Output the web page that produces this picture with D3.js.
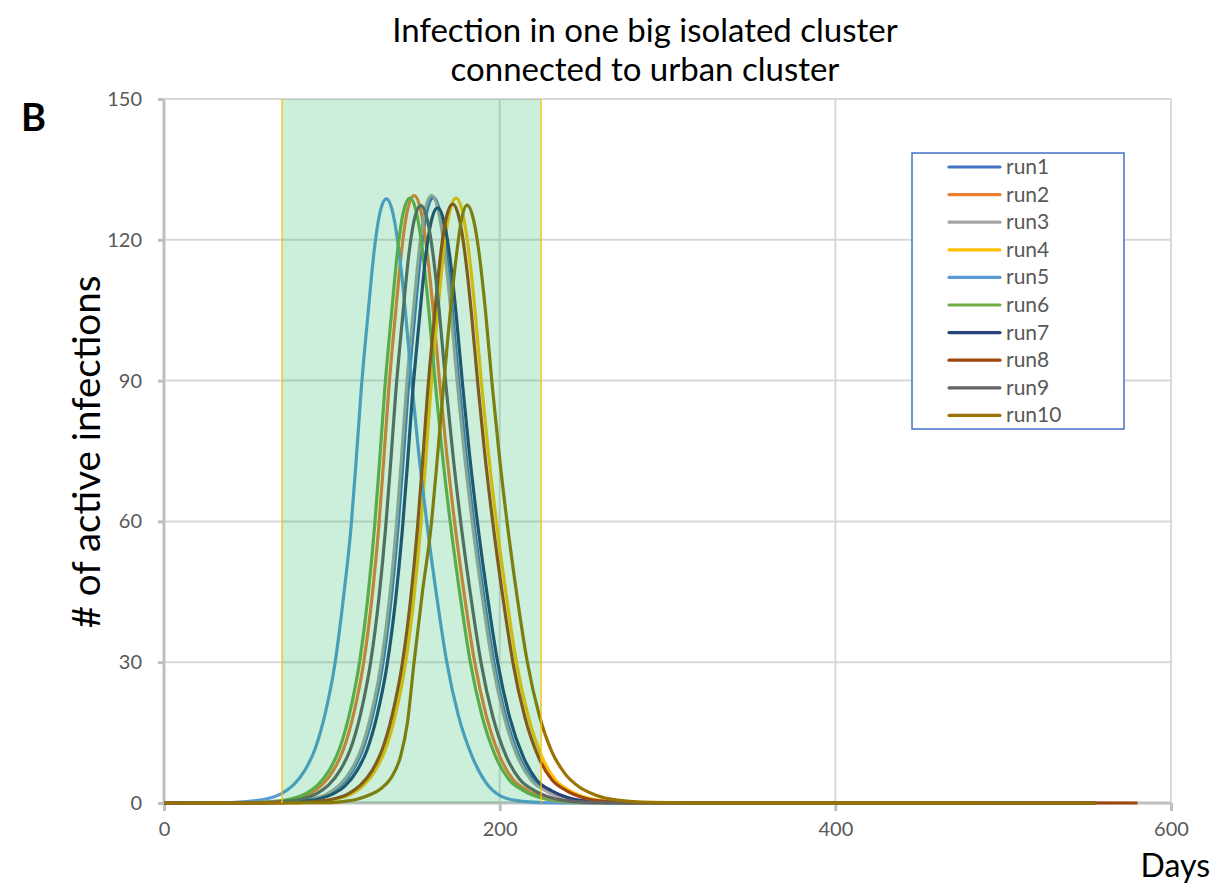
<!DOCTYPE html>
<html><head><meta charset="utf-8">
<script src="https://cdn.jsdelivr.net/npm/d3@7"></script>
<style>
html,body{margin:0;padding:0;background:#fff;}
svg{display:block;font-family:Lato,"Open Sans",sans-serif;}
</style></head>
<body>
<svg id="chart" width="1213" height="886"></svg>
<script>
const seriesNames = ["run1","run2","run3","run4","run5","run6","run7","run8","run9","run10"];
const seriesColors = ["#4472C4","#ED7D31","#A5A5A5","#FFC000","#5B9BD5","#70AD47","#264478","#9E480E","#636363","#997300"];
const xTicks = [0,200,400,600];
const yTicks = [0,30,60,90,120,150];
const shadeRange = [70.3, 224.7];

const run1 = [[0,0],[60.5,0.05],[75.5,0.25],[88.5,0.8],[98.5,2.0],[105.5,3.8],[112.5,7.0],[118.5,11.5],[124.5,19],[130.5,30],[135.5,44],[139.5,59.1],[142.5,73.2],[145.5,88.2],[149.5,104.2],[153.5,118.8],[156.5,125.8],[160.5,129.0],[164.5,125.8],[167.5,119.3],[171.5,106.2],[175.5,90.2],[179.5,75.7],[184.5,60.1],[190.5,44.1],[196.5,30.1],[203.5,18.5],[211.5,10],[219.5,5],[228.5,2.6],[238.5,1.1],[252.5,0.3],[270.5,0.05],[555,0]];
const run2 = [[0,0],[49,0.05],[64,0.25],[77,0.8],[87,2.0],[94,3.8],[101,7.0],[107,11.5],[113,19],[119,30],[124,44],[128,59],[131,73.5],[134,88.5],[138,104.5],[142,119],[145,126.2],[149,129.4],[153,126.2],[156,119.6],[160,106.5],[164,90.5],[168,76],[173,60.3],[179,44.2],[185,30.2],[192,18.6],[200,10],[208,5],[217,2.6],[227,1.1],[241,0.3],[259,0.05],[555,0]];
const run3 = [[0,0],[59.5,0.05],[74.5,0.25],[87.5,0.8],[97.5,2.0],[104.5,3.8],[111.5,7.0],[117.5,11.5],[123.5,19],[129.5,30],[134.5,44],[138.5,59.3],[141.5,73.4],[144.5,88.5],[148.5,104.6],[152.5,119.1],[155.5,126.2],[159.5,129.4],[163.5,126.2],[166.5,119.6],[170.5,106.5],[174.5,90.5],[178.5,76],[183.5,60.3],[189.5,44.2],[195.5,30.2],[202.5,18.6],[210.5,10],[218.5,5],[227.5,2.6],[237.5,1.1],[251.5,0.3],[269.5,0.05],[555,0]];
const run4 = [[0,0],[74,0.05],[89,0.25],[102,0.8],[112,2.0],[119,3.8],[126,7.0],[132,11.5],[138,19],[144,30],[149,44],[153,59.1],[156,73.1],[159,88.1],[163,104.2],[167,118.7],[170,125.7],[174,128.9],[178,125.7],[181,119.2],[185,106.2],[189,90.1],[193,75.6],[198,60.1],[204,44.1],[210,30],[217,18.5],[225,10],[233,5],[242,2.6],[252,1.1],[266,0.3],[284,0.05],[555,0]];
const run5 = [[0,0],[32,0.05],[47,0.25],[60,0.8],[70,2.0],[77,3.8],[84,7.0],[90,11.5],[96,19],[102,30],[107,44],[111.5,59],[114.5,73],[117.5,88],[121.5,104],[125.5,118.5],[128.5,125.5],[132.5,128.7],[136.5,125.5],[139.5,119],[143.5,106],[147.5,90],[151.5,75.5],[156.5,60],[162.5,44],[168.5,30],[175.5,18.5],[183.5,10],[191.5,4.5],[200.5,1.5],[210.5,0.5],[224.5,0.1],[242.5,0.02],[555,0]];
const run6 = [[0,0],[46.5,0.05],[61.5,0.25],[74.5,0.8],[84.5,2.0],[91.5,3.8],[98.5,7.0],[104.5,11.5],[110.5,19],[116.5,30],[121.5,44],[125.5,59],[128.5,73],[131.5,88],[135.5,104],[139.5,118.7],[142.5,125.7],[146.5,128.9],[150.5,125.7],[153.5,119.2],[157.5,106],[161.5,90],[165.5,75.5],[170.5,60],[176.5,44],[182.5,30],[189.5,18.5],[197.5,10],[205.5,5],[214.5,2.6],[224.5,1.1],[238.5,0.3],[256.5,0.05],[555,0]];
const run7 = [[0,0],[63,0.05],[78,0.25],[91,0.8],[101,2.0],[108,3.7],[115,6.9],[121,11.3],[127,18.7],[133,29.6],[138,43.3],[142,58.1],[145,71.9],[148,86.7],[152,102.4],[156,116.7],[159,123.6],[163,126.8],[167,123.6],[170,117.2],[174,104.4],[178,88.7],[182,74.4],[187,59.1],[193,43.3],[199,29.6],[206,18.2],[214,9.9],[222,4.9],[231,2.6],[241,1.1],[255,0.3],[273,0.05],[555,0]];
const run8 = [[0,0],[72,0.05],[87,0.25],[100,0.8],[110,2.0],[117,3.8],[124,6.9],[130,11.4],[136,18.8],[142,29.7],[147,43.6],[151,58.5],[154,72.3],[157,87.2],[161,103.1],[165,117.4],[168,124.4],[172,127.6],[176,124.4],[179,117.9],[183,105],[187,89.2],[191,74.8],[196,59.5],[202,43.6],[208,29.7],[215,18.3],[223,9.9],[231,5],[240,2.6],[250,1.1],[264,0.3],[282,0.05],[580,0]];
const run9 = [[0,0],[53,0.05],[68,0.25],[81,0.8],[91,2.0],[98,3.8],[105,7.0],[111,11.4],[117,18.8],[123,29.7],[128,43.5],[132,58.4],[135,72.2],[138,87],[142,102.9],[146,117.2],[149,124.1],[153,127.3],[157,124.1],[160,117.7],[164,104.8],[168,89],[172,74.7],[177,59.3],[183,43.5],[189,29.7],[196,18.3],[204,9.9],[212,5],[221,2.6],[231,1.1],[245,0.3],[263,0.05],[555,0]];
const run10 = [[0,0],[95,0.05],[105,0.25],[115,0.8],[123,1.8],[129,3.0],[135,5.2],[141,10],[145,17],[149,30],[154,45],[159,58.5],[162.5,72],[166,86.5],[170,102.5],[174,116],[177,123.8],[180.5,127.4],[184.5,124.2],[187.5,117.8],[191.5,105],[195.5,89.2],[199.5,75],[204.5,59.6],[210.5,43.7],[216.5,30],[223.5,18.8],[231,11],[239,6.2],[247,3.5],[257,1.7],[270,0.6],[290,0.12],[320,0.02],[555,0]];
const seriesData = [run1,run2,run3,run4,run5,run6,run7,run8,run9,run10];

const svg = d3.select("#chart");
const L = 164, R = 1171, T = 99, B = 803;
const x = d3.scaleLinear().domain([0,600]).range([L,R]);
const y = d3.scaleLinear().domain([0,150]).range([B,T]);
const tickColor = "#595959";
const gridColor = "#d9d9d9";
const axisColor = "#bfbfbf";

// gridlines
svg.append("g").selectAll("line").data(yTicks.filter(d=>d>0)).join("line")
  .attr("x1",L).attr("x2",R).attr("y1",d=>y(d)).attr("y2",d=>y(d))
  .attr("stroke",gridColor).attr("stroke-width",2);
svg.append("g").selectAll("line").data(xTicks.filter(d=>d>0)).join("line")
  .attr("x1",d=>x(d)).attr("x2",d=>x(d)).attr("y1",T).attr("y2",B)
  .attr("stroke",gridColor).attr("stroke-width",2);

// axes
const yAxis = d3.axisLeft(y).tickValues(yTicks).tickSize(6).tickPadding(16);
const gy = svg.append("g").attr("transform",`translate(${L},0)`).call(yAxis);
const xAxis = d3.axisBottom(x).tickValues(xTicks).tickSize(8).tickPadding(11);
const gx = svg.append("g").attr("transform",`translate(0,${B})`).call(xAxis);
[gy,gx].forEach(g=>{
  g.select(".domain").attr("stroke",axisColor).attr("stroke-width",3);
  g.selectAll(".tick line").attr("stroke",axisColor).attr("stroke-width",3);
  g.selectAll(".tick text").attr("fill",tickColor).attr("font-size",20)
    .attr("font-family","Lato, 'Open Sans', sans-serif");
});
gx.select(".domain").attr("d",`M${L},0H${R}`);
gy.select(".domain").attr("d",`M0,${B}V${T}`);

// lines
const line = d3.line().x(d=>x(d[0])).y(d=>y(d[1])).curve(d3.curveMonotoneX);
svg.append("g").selectAll("path").data(seriesData).join("path")
  .attr("d",line).attr("fill","none")
  .attr("stroke",(d,i)=>seriesColors[i]).attr("stroke-width",3.2)
  .attr("stroke-linejoin","round");

// shaded window
svg.append("rect").attr("x",x(shadeRange[0])).attr("y",T)
  .attr("width",x(shadeRange[1])-x(shadeRange[0])).attr("height",B-T)
  .attr("fill","#00B050").attr("fill-opacity",0.2);
svg.append("g").selectAll("line").data(shadeRange).join("line")
  .attr("x1",d=>x(d)).attr("x2",d=>x(d)).attr("y1",T).attr("y2",B)
  .attr("stroke","#FFC000").attr("stroke-width",1.3);

// titles
const title = svg.append("text").attr("text-anchor","middle").attr("font-size",33).attr("fill","#000");
title.append("tspan").attr("x",645).attr("y",42).text("Infection in one big isolated cluster");
title.append("tspan").attr("x",645).attr("y",81).text("connected to urban cluster");
svg.append("text").attr("x",21).attr("y",131).attr("font-size",38).attr("font-weight","bold").text("B");
svg.append("text").attr("transform","translate(100,452) rotate(-90)").attr("text-anchor","middle")
  .attr("font-size",38.5).attr("fill","#000").text("# of active infections");
svg.append("text").attr("x",1210).attr("y",877).attr("text-anchor","end").attr("font-size",32).attr("fill","#000").text("Days");

// legend
const lg = svg.append("g");
lg.append("rect").attr("x",912).attr("y",153).attr("width",212).attr("height",276)
  .attr("fill","#fff").attr("stroke","#4472C4").attr("stroke-width",1.5);
const items = lg.selectAll("g.item").data(seriesNames).join("g").attr("class","item")
  .attr("transform",(d,i)=>`translate(0,${167+i*27.6})`);
items.append("line").attr("x1",949).attr("x2",1000).attr("y1",0).attr("y2",0)
  .attr("stroke",(d,i)=>seriesColors[i]).attr("stroke-width",3.2).attr("stroke-linecap","round");
items.append("text").attr("x",1006).attr("y",7).attr("font-size",21).attr("fill",tickColor).text(d=>d);
</script>
</body></html>
